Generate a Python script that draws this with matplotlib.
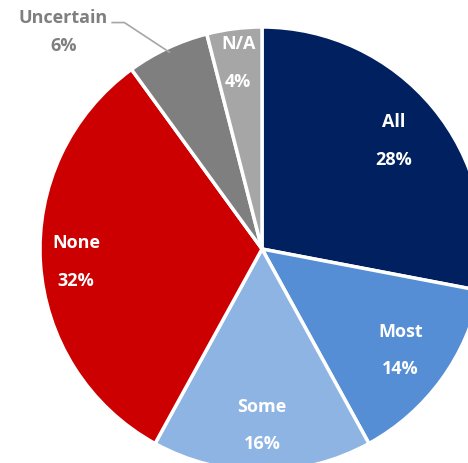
import numpy as np
import matplotlib.pyplot as plt

plt.rcParams['font.family'] = ['Open Sans', 'DejaVu Sans']

labels = ['All', 'Most', 'Some', 'None', 'Uncertain', 'N/A']
shares = [28, 14, 16, 32, 6, 4]
colors = ['#002060', '#558ED5', '#8EB4E3', '#CC0000', '#7F7F7F', '#A6A6A6']

# where each label sits (fraction of radius), None = outside label
label_r = [0.77, 0.77, 0.79, 0.84, None, 0.85]

fig = plt.figure(figsize=(4.68, 4.64), dpi=100)
ax = fig.add_axes([40/468, -8/464, 444/468, 444/464])

wedges, _ = ax.pie(shares, colors=colors, startangle=90, counterclock=False,
                   radius=1, wedgeprops=dict(edgecolor='white', linewidth=2.5))

for w, name, val, r in zip(wedges, labels, shares, label_r):
    mid = np.deg2rad((w.theta1 + w.theta2) / 2)
    if r is None:
        # outside label with leader line
        ex, ey = 0.98*np.cos(mid), 0.98*np.sin(mid)
        ax.plot([ex, -0.62, -0.675], [ey, 1.02, 1.02],
                color='#A6A6A6', lw=1.2, clip_on=False)
        ax.text(-0.895, 1.045, name, color='#7F7F7F', fontsize=13,
                fontweight='bold', ha='center', va='center')
        ax.text(-0.895, 0.92, f'{val}%', color='#7F7F7F', fontsize=13,
                fontweight='bold', ha='center', va='center')
        continue
    x, y = r*np.cos(mid), r*np.sin(mid)
    ax.text(x, y + 0.085, name, color='white', fontsize=13, fontweight='bold',
            ha='center', va='center')
    ax.text(x, y - 0.085, f'{val}%', color='white', fontsize=13, fontweight='bold',
            ha='center', va='center')

ax.set_xlim(-1, 1)
ax.set_ylim(-1, 1)
ax.set_aspect('equal')
ax.axis('off')

plt.savefig('out.png', dpi=100)
